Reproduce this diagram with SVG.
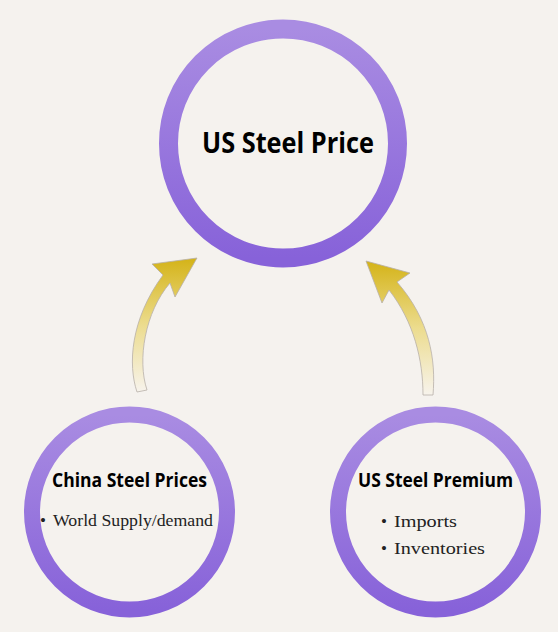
<svg xmlns="http://www.w3.org/2000/svg" width="558" height="632" viewBox="0 0 558 632">
<defs>
<linearGradient id="ring" x1="0" y1="0" x2="0" y2="1">
<stop offset="0" stop-color="#a98ce2"/>
<stop offset="1" stop-color="#8762d9"/>
</linearGradient>
<linearGradient id="arrow" x1="0" y1="1" x2="0" y2="0">
<stop offset="0" stop-color="#f7f3ec"/>
<stop offset="0.5" stop-color="#ecdc8e"/>
<stop offset="1" stop-color="#d4b317"/>
</linearGradient>
<style>
.ring{fill:#f5f2ee;stroke:url(#ring)}
.arr{fill:url(#arrow);stroke:#b8b0a8;stroke-width:0.8}
.h{font-family:"Open Sans","Liberation Sans",sans-serif;font-weight:bold;fill:#000}
.b{font-family:"Liberation Serif","DejaVu Serif",serif;fill:#222;font-size:17px}
</style>
</defs>
<rect width="558" height="632" fill="#f5f2ee"/>
<g id="connectors">
<path class="arr" d="M 137 392 C 128 365, 130 320, 163 275 L 152 264 L 197 258 L 175 297 L 170 283 C 145 312, 137 360, 147 390 Z"/>
<path class="arr" d="M 433 395 C 436 360, 430 320, 397 282 L 410 273 L 366 261 L 382 303 L 389 290 C 414 322, 423 360, 423 395 Z"/>
</g>
<g id="node-us-steel-price">
<circle class="ring" cx="283" cy="143.5" r="114.5" stroke-width="19"/>
<text class="h" x="202" y="153" font-size="28.5" textLength="172" lengthAdjust="spacingAndGlyphs">US Steel Price</text>
</g>
<g id="node-china-steel-prices">
<circle class="ring" cx="129.5" cy="512" r="97.5" stroke-width="16"/>
<text class="h" x="52" y="487" font-size="20" textLength="155" lengthAdjust="spacingAndGlyphs">China Steel Prices</text>
<text class="b" y="526"><tspan x="40">•</tspan><tspan x="53" textLength="160" lengthAdjust="spacingAndGlyphs">World Supply/demand</tspan></text>
</g>
<g id="node-us-steel-premium">
<circle class="ring" cx="435.5" cy="512" r="97.5" stroke-width="16"/>
<text class="h" x="358" y="487" font-size="20" textLength="155" lengthAdjust="spacingAndGlyphs">US Steel Premium</text>
<text class="b" y="527"><tspan x="381">•</tspan><tspan x="394" textLength="63" lengthAdjust="spacingAndGlyphs">Imports</tspan></text>
<text class="b" y="554"><tspan x="381">•</tspan><tspan x="394" textLength="91" lengthAdjust="spacingAndGlyphs">Inventories</tspan></text>
</g>
</svg>
